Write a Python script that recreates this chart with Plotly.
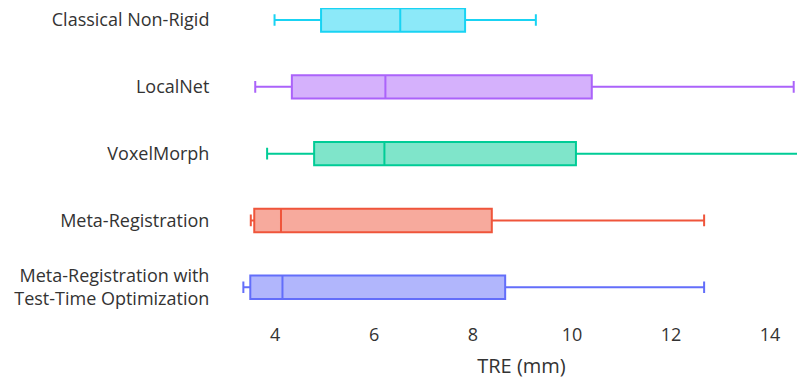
import plotly.graph_objects as go

methods = [
    "Meta-Registration with<br>Test-Time Optimization",
    "Meta-Registration",
    "VoxelMorph",
    "LocalNet",
    "Classical Non-Rigid",
]
lower_fence = [3.36, 3.51, 3.84, 3.60, 3.99]
q1 = [3.50, 3.58, 4.79, 4.34, 4.93]
median = [4.15, 4.12, 6.21, 6.23, 6.53]
q3 = [8.65, 8.38, 10.08, 10.40, 7.84]
upper_fence = [12.67, 12.67, 15.6, 14.48, 9.27]
colors = ["#636efa", "#EF553B", "#00cc96", "#ab63fa", "#19d3f3"]

fig = go.Figure()
for i, m in enumerate(methods):
    fig.add_trace(go.Box(
        y=[m], q1=[q1[i]], median=[median[i]], q3=[q3[i]],
        lowerfence=[lower_fence[i]], upperfence=[upper_fence[i]],
        orientation="h", name=m, marker_color=colors[i],
        line=dict(width=2), showlegend=False,
    ))

fig.update_layout(
    template="none",
    width=805, height=378,
    margin=dict(l=222, r=0, t=0, b=72),
    font=dict(family="Open Sans", size=18, color="#333"),
    boxgap=0.5,
    plot_bgcolor="white", paper_bgcolor="white",
    xaxis=dict(range=[3.09, 14.87], tickvals=[4, 6, 8, 10, 12, 14],
               showgrid=False, zeroline=False, showline=False,
               ticks="outside", ticklen=4, tickcolor="rgba(0,0,0,0)",
               title=dict(text="TRE (mm)", font=dict(size=20), standoff=14)),
    yaxis=dict(range=[-0.4, 4.18], showgrid=False, zeroline=False,
               showline=False, ticks="outside", ticklen=16,
               tickcolor="rgba(0,0,0,0)", categoryorder="array",
               categoryarray=methods),
)
fig.write_html("out.html")
